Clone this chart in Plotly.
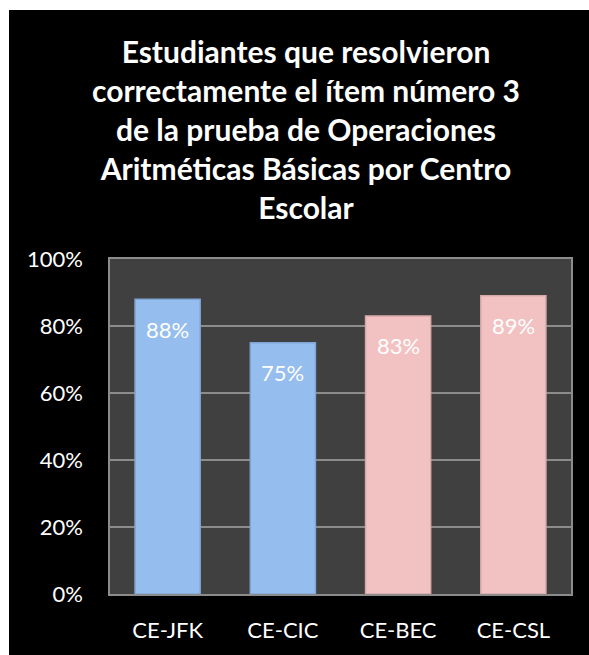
import plotly.graph_objects as go

categories = ["CE-JFK", "CE-CIC", "CE-BEC", "CE-CSL"]
values = [0.88, 0.75, 0.83, 0.89]
bar_colors = ["#95BDEE", "#95BDEE", "#F2C2C2", "#F2C2C2"]
edge_colors = ["#7FA6D6", "#7FA6D6", "#D9A9A9", "#D9A9A9"]
tick_vals = [0, 0.2, 0.4, 0.6, 0.8, 1.0]
title_text = ("Estudiantes que resolvieron<br>correctamente el ítem número 3<br>"
              "de la prueba de Operaciones<br>Aritméticas Básicas por Centro<br>Escolar")

# figure sits at (9,10) in the 589x655 page (white strip left and top)
OX, OY = 9, 10
W, H = 589 - OX, 655 - OY
ML, MR, MT, MB = 110 - OX, 18, 259 - OY, 58
PW, PH = W - ML - MR, H - MT - MB

fig = go.Figure()
fig.add_trace(go.Bar(
    x=categories, y=values,
    marker=dict(color=bar_colors, line=dict(color=edge_colors, width=1.5)),
    width=0.565,
    hoverinfo="skip",
))

for c, v in zip(categories, values):
    fig.add_annotation(x=c, y=v, text=f"{round(v*100)}%", showarrow=False,
                       yshift=-30, font=dict(color="white", size=22, family="Lato"))

fig.add_annotation(text=title_text, showarrow=False, xref="paper", yref="paper",
                   x=(306 - OX - ML) / PW, xanchor="center",
                   y=(H - MB - (128 - OY)) / PH, yanchor="middle",
                   align="center",
                   font=dict(family="Lato", size=30, color="white", weight="bold"))

fig.update_layout(
    width=W, height=H,
    margin=dict(l=ML, r=MR, t=MT, b=MB),
    paper_bgcolor="black",
    plot_bgcolor="#404040",
    showlegend=False,
    font=dict(family="Lato", color="white"),
    bargap=0.435,
)
fig.update_yaxes(range=[0, 1], tickvals=tick_vals, tickformat=".0%",
                 showgrid=True, gridcolor="#8C8C8C", gridwidth=1.5,
                 showline=True, linecolor="#8C8C8C", linewidth=1.5, mirror=True,
                 zeroline=False, ticks="", ticklabelstandoff=21,
                 tickfont=dict(size=22, color="white", family="Lato"))
fig.update_xaxes(showline=True, linecolor="#8C8C8C", linewidth=1.5, mirror=True,
                 ticks="", ticklabelstandoff=16,
                 tickfont=dict(size=22, color="white", family="Lato"))

page_style = (f"document.body.style.margin='{OY}px 0 0 {OX}px';"
              "document.body.style.overflow='hidden';"
              "document.body.style.background='white';")
fig.write_html("out.html", post_script=page_style)
